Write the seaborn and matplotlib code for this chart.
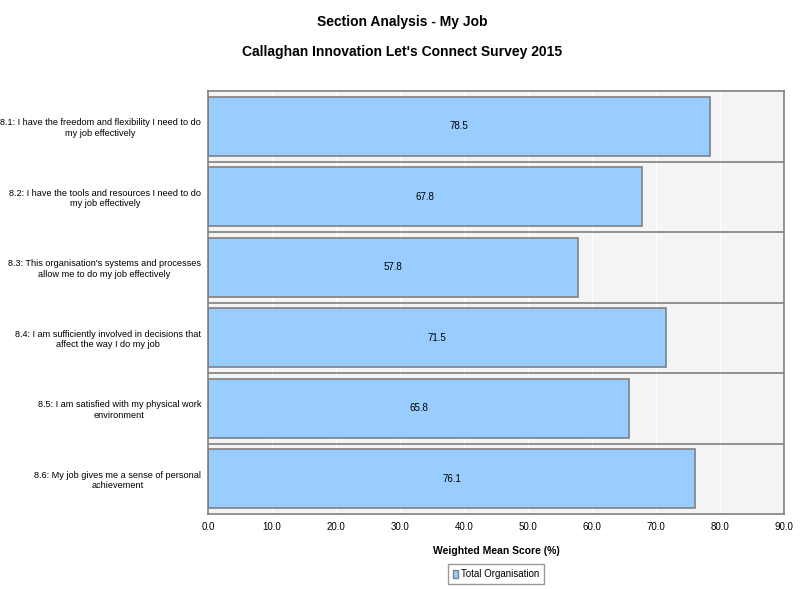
import matplotlib
matplotlib.use("Agg")
import matplotlib.pyplot as plt
import seaborn as sns
import pandas as pd
from matplotlib.patches import Patch

sns.set_theme(style="white")
plt.rcParams['font.family'] = ['Liberation Sans', 'DejaVu Sans']
plt.rcParams['text.color'] = 'black'
plt.rcParams['axes.labelcolor'] = 'black'
plt.rcParams['xtick.color'] = 'black'
plt.rcParams['ytick.color'] = 'black'

categories = [
    "8.1: I have the freedom and flexibility I need to do\nmy job effectively",
    "8.2: I have the tools and resources I need to do\nmy job effectively",
    "8.3: This organisation's systems and processes\nallow me to do my job effectively",
    "8.4: I am sufficiently involved in decisions that\naffect the way I do my job",
    "8.5: I am satisfied with my physical work\nenvironment",
    "8.6: My job gives me a sense of personal\nachievement",
]
scores = [78.5, 67.8, 57.8, 71.5, 65.8, 76.1]
xticks = [0, 10, 20, 30, 40, 50, 60, 70, 80, 90]

df = pd.DataFrame({"Question": categories, "Score": scores})

fig = plt.figure(figsize=(8.05, 5.89), dpi=100)
ax = fig.add_axes([208/805, 1-514/589, (784-208)/805, (514-91)/589])
ax.set_facecolor("#f4f4f4")

sns.barplot(data=df, y="Question", x="Score", orient="h", color="#99ccff",
            edgecolor="#808080", linewidth=1.2, width=0.83, saturation=1, ax=ax)

ax.set_xlim(0, 90)
ax.set_ylim(len(categories)-0.5, -0.5)
ax.set_xticks(xticks)
ax.set_xticklabels([f"{v:.1f}" for v in xticks], fontsize=7, color="#000000")
ax.tick_params(axis="x", direction="in", length=3, color="#808080", pad=6)
ax.tick_params(axis="y", length=0, pad=5)
for lbl in ax.get_yticklabels():
    lbl.set_fontsize(6.6)
    lbl.set_multialignment("center")
    lbl.set_color("black")
ax.set_ylabel("")
ax.set_xlabel("Weighted Mean Score (%)", fontsize=7.5, fontweight="bold", labelpad=10)

ax.set_axisbelow(True)
for v in xticks[1:-1]:
    ax.axvline(v, color="white", lw=1, zorder=0)
for i in range(1, len(categories)):
    ax.axhline(i-0.5, color="#808080", lw=1.2, zorder=0.5)
for s in ax.spines.values():
    s.set_color("#808080")
    s.set_linewidth(1.2)

for i, v in enumerate(scores):
    ax.text(v/2, i, f"{v:.1f}", ha="center", va="center", fontsize=7, color="black")

fig.text(0.5, 1-22/589, "Section Analysis - My Job", ha="center", va="center",
         fontsize=10, fontweight="bold", color="black")
fig.text(0.5, 1-52/589, "Callaghan Innovation Let's Connect Survey 2015", ha="center",
         va="center", fontsize=10, fontweight="bold", color="black")

handle = Patch(facecolor="#99ccff", edgecolor="#808080", label="Total Organisation")
leg = fig.legend(handles=[handle], loc="center", bbox_to_anchor=(496/805, 1-574/589),
                 fontsize=7, frameon=True, fancybox=False, handlelength=0.6,
                 handleheight=0.9, handletextpad=0.3, borderpad=0.5)
leg.get_frame().set_edgecolor("#808080")
leg.get_frame().set_linewidth(1)

fig.savefig("out.png", dpi=100)
